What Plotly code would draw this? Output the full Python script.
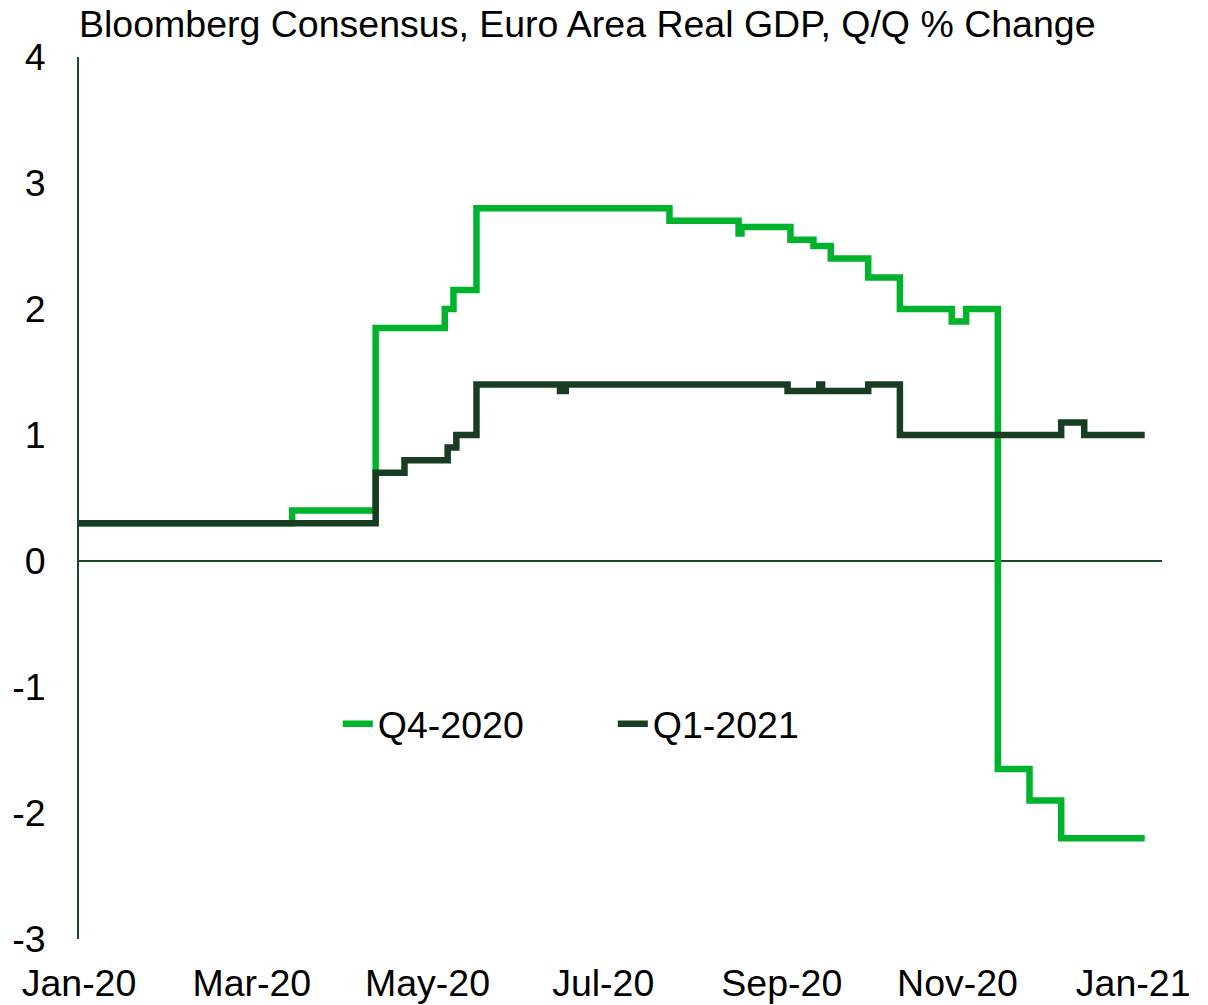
import plotly.graph_objects as go

# ---- data (step change points) ----
q4_dates = ["2020-01-01", "2020-03-15", "2020-04-13", "2020-05-07", "2020-05-10",
            "2020-05-18", "2020-07-24", "2020-08-17", "2020-08-18", "2020-09-04",
            "2020-09-12", "2020-09-18", "2020-10-01", "2020-10-12", "2020-10-30",
            "2020-11-04", "2020-11-15", "2020-11-26", "2020-12-07", "2021-01-05"]
q4_values = [0.3, 0.4, 1.85, 2.0, 2.15,
             2.8, 2.7, 2.6, 2.65, 2.55,
             2.5, 2.4, 2.25, 2.0, 1.9,
             2.0, -1.65, -1.9, -2.2, -2.2]

q1_dates = ["2020-01-01", "2020-04-13", "2020-04-23", "2020-05-08", "2020-05-11",
            "2020-05-18", "2020-06-16", "2020-06-18", "2020-09-03", "2020-09-14",
            "2020-09-15", "2020-10-01", "2020-10-12", "2020-12-07", "2020-12-15",
            "2021-01-05"]
q1_values = [0.3, 0.7, 0.8, 0.9, 1.0,
             1.4, 1.35, 1.4, 1.35, 1.4,
             1.35, 1.4, 1.0, 1.1, 1.0,
             1.0]

x_tick_vals = ["2020-01-01", "2020-03-01", "2020-05-01", "2020-07-01",
               "2020-09-01", "2020-11-01", "2021-01-01"]
x_tick_text = ["Jan-20", "Mar-20", "May-20", "Jul-20", "Sep-20", "Nov-20", "Jan-21"]

y_tick_vals = [-3, -2, -1, 0, 1, 2, 3, 4]
y_tick_text = ["-3", "-2", "-1", "0", "1", "2", "3", "4"]

title_text = "Bloomberg Consensus, Euro Area Real GDP, Q/Q % Change"

# ---- style ----
FONT = "Liberation Sans, Arial, sans-serif"
FS = 37.5
GREEN = "#00B32C"
DARK = "#193D23"
AXIS = "#1A4A2A"

fig = go.Figure()
fig.add_trace(go.Scatter(x=q4_dates, y=q4_values, name="Q4-2020", mode="lines",
                         line=dict(color=GREEN, width=6.5, shape="hv")))
fig.add_trace(go.Scatter(x=q1_dates, y=q1_values, name="Q1-2021", mode="lines",
                         line=dict(color=DARK, width=6.5, shape="hv")))

# the page places the figure 8px in from the top-left corner (body margin)
fig.update_layout(
    width=1208, height=1005,
    margin=dict(l=71, r=54, t=49, b=74, autoexpand=False),
    paper_bgcolor="white", plot_bgcolor="white",
    font=dict(family=FONT, size=FS, color="black"),
    title=dict(text=title_text, x=71 / 1208, xanchor="left", xref="container",
               y=1 - 16 / 1005, yanchor="middle", yref="container",
               font=dict(size=FS, color="black")),
    showlegend=True,
    legend=dict(orientation="h", x=0.239, y=0.244, xanchor="left", yanchor="middle",
                bgcolor="rgba(0,0,0,0)", font=dict(size=FS),
                itemwidth=30, entrywidth=230, entrywidthmode="pixels"),
    xaxis=dict(type="date", range=["2020-01-01", "2021-01-11"], automargin=False,
               tickmode="array", tickvals=x_tick_vals, ticktext=x_tick_text,
               showgrid=False, showline=False, zeroline=False, ticks="",
               ticklabelstandoff=18, tickfont=dict(size=FS)),
    yaxis=dict(range=[-3, 4], automargin=False,
               tickmode="array", tickvals=y_tick_vals, ticktext=y_tick_text,
               showgrid=False,
               showline=True, linecolor=AXIS, linewidth=2,
               zeroline=True, zerolinecolor=AXIS, zerolinewidth=1.5,
               ticks="", ticklabelstandoff=24, tickfont=dict(size=FS)),
)

fig.write_html("out.html")
